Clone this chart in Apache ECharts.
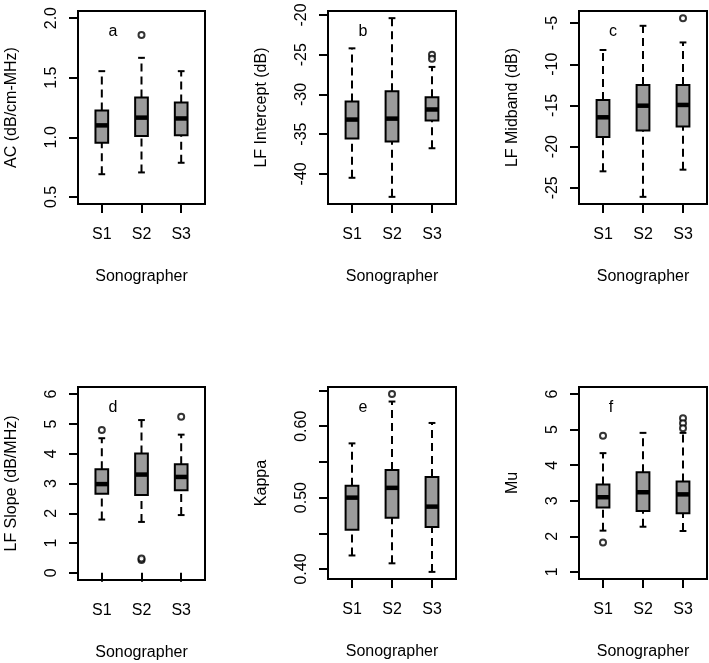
<!DOCTYPE html>
<html>
<head>
<meta charset="utf-8">
<script src="https://cdn.jsdelivr.net/npm/echarts@6/dist/echarts.min.js"></script>
<style>
  html, body { margin: 0; padding: 0; background: #fff; }
  #chart { width: 709px; height: 663px; }
</style>
</head>
<body>
<div id="chart"></div>
<script>
// sonographer groups
var groups = ['S1', 'S2', 'S3'];

// box stats per group: [lower whisker, Q1, median, Q3, upper whisker]
var acStats = [[0.69, 0.955, 1.10, 1.225, 1.555], [0.705, 1.01, 1.165, 1.333, 1.667], [0.786, 1.017, 1.158, 1.292, 1.555]];
var interceptStats = [[-40.5, -35.56, -33.17, -30.9, -24.2], [-42.9, -35.94, -33.05, -29.6, -20.4], [-36.78, -33.28, -31.9, -30.36, -26.54]];
var midbandStats = [[-23.0, -18.82, -16.44, -14.33, -8.27], [-26.1, -18.05, -15.03, -12.52, -5.33], [-22.8, -17.57, -14.94, -12.52, -7.35]];
var slopeStats = [[1.79, 2.66, 2.98, 3.48, 4.52], [1.71, 2.61, 3.30, 4.01, 5.13], [1.94, 2.77, 3.22, 3.65, 4.64]];
var kappaStats = [[0.419, 0.455, 0.500, 0.5165, 0.576], [0.408, 0.472, 0.5137, 0.5386, 0.6346], [0.396, 0.459, 0.4874, 0.5289, 0.6046]];
var muStats = [[2.16, 2.81, 3.10, 3.46, 4.34], [2.27, 2.71, 3.24, 3.80, 4.91], [2.15, 2.65, 3.18, 3.54, 4.91]];

// outliers: [group number, value]
var acOutliers = [[2, 1.858]];
var interceptOutliers = [[3, -25.0], [3, -25.5]];
var midbandOutliers = [[3, -4.4]];
var slopeOutliers = [[1, 4.80], [2, 0.43], [2, 0.48], [3, 5.24]];
var kappaOutliers = [[2, 0.645]];
var muOutliers = [[1, 4.83], [1, 1.83], [3, 5.32], [3, 5.18], [3, 5.04]];

// y ranges (before the 4% padding) and tick values
var acRange = [0.5, 2.0],      acTicks = [0.5, 1.0, 1.5, 2.0];
var interceptRange = [-42.9, -20.4], interceptTicks = [-40, -35, -30, -25, -20];
var midbandRange = [-26.1, -4.4],  midbandTicks = [-25, -20, -15, -10, -5];
var slopeRange = [0, 6],       slopeTicks = [0, 1, 2, 3, 4, 5, 6];
var kappaRange = [0.396, 0.645], kappaTicks = [0.40, 0.45, 0.50, 0.55, 0.60, 0.65], kappaLabels = [0.40, 0.50, 0.60];
var muRange = [1, 6],          muTicks = [1, 2, 3, 4, 5, 6];

var yTitles = ['AC (dB/cm-MHz)', 'LF Intercept (dB)', 'LF Midband (dB)', 'LF Slope (dB/MHz)', 'Kappa', 'Mu'];
var panelLetters = ['a', 'b', 'c', 'd', 'e', 'f'];

var FONT = '"Liberation Sans", Arial, Helvetica, sans-serif';
var BOX_HALF = 0.16;
var STAPLE_HALF = 0.085;

var panels = [
  {stats: acStats, out: acOutliers, range: acRange, ticks: acTicks, labels: acTicks, dec: 1,
   grid: {left: 78, top: 11, width: 127, height: 193}, letterPos: [113, 40]},
  {stats: interceptStats, out: interceptOutliers, range: interceptRange, ticks: interceptTicks, labels: interceptTicks, dec: 0,
   grid: {left: 328, top: 11, width: 128, height: 193}, letterPos: [363, 40]},
  {stats: midbandStats, out: midbandOutliers, range: midbandRange, ticks: midbandTicks, labels: midbandTicks, dec: 0,
   grid: {left: 579, top: 11, width: 128, height: 193}, letterPos: [613, 40]},
  {stats: slopeStats, out: slopeOutliers, range: slopeRange, ticks: slopeTicks, labels: slopeTicks, dec: 0,
   grid: {left: 78, top: 387, width: 127, height: 193}, letterPos: [113, 416]},
  {stats: kappaStats, out: kappaOutliers, range: kappaRange, ticks: kappaTicks, labels: kappaLabels, dec: 2,
   grid: {left: 328, top: 387, width: 128, height: 192}, letterPos: [363, 416]},
  {stats: muStats, out: muOutliers, range: muRange, ticks: muTicks, labels: muTicks, dec: 0,
   grid: {left: 579, top: 387, width: 128, height: 192}, letterPos: [611, 416]}
];

function renderBox(params, api) {
  var x = api.value(0);
  var lo = api.value(1), q1 = api.value(2), md = api.value(3), q3 = api.value(4), hi = api.value(5);
  var pt = function (dx, v) { return api.coord([x + dx, v]); };
  var dash = {stroke: '#000', lineWidth: 2, lineDash: [8, 5]};
  var solid = {stroke: '#000', lineWidth: 2};
  var tl = pt(-BOX_HALF, q3), br = pt(BOX_HALF, q1);
  var mL = pt(-BOX_HALF, md), mR = pt(BOX_HALF, md);
  var lineBetween = function (a, b, style) {
    return {type: 'line', shape: {x1: a[0], y1: a[1], x2: b[0], y2: b[1]}, style: style};
  };
  return {
    type: 'group',
    children: [
      lineBetween(pt(0, lo), pt(0, q1), dash),
      lineBetween(pt(0, q3), pt(0, hi), dash),
      lineBetween(pt(-STAPLE_HALF, lo), pt(STAPLE_HALF, lo), solid),
      lineBetween(pt(-STAPLE_HALF, hi), pt(STAPLE_HALF, hi), solid),
      {type: 'rect', shape: {x: tl[0], y: tl[1], width: br[0] - tl[0], height: br[1] - tl[1]},
       style: {fill: '#9b9b9b', stroke: '#000', lineWidth: 2}},
      lineBetween(mL, mR, {stroke: '#000', lineWidth: 4.5})
    ]
  };
}

var grids = [], xAxes = [], yAxes = [], series = [], graphics = [];

panels.forEach(function (p, i) {
  var pad = (p.range[1] - p.range[0]) * 0.04;
  grids.push(Object.assign({show: true, borderColor: '#000', borderWidth: 2,
    backgroundColor: 'transparent', containLabel: false, outerBoundsMode: 'none'}, p.grid));

  xAxes.push({
    type: 'value', gridIndex: i, min: 0.4, max: 3.6,
    name: 'Sonographer', nameLocation: 'middle', nameGap: 65,
    nameTextStyle: {fontFamily: FONT, fontSize: 16, color: '#000'},
    axisLine: {show: false}, splitLine: {show: false},
    axisTick: {show: true, length: 9, customValues: [1, 2, 3], lineStyle: {color: '#000', width: 2}},
    axisLabel: {show: true, customValues: [1, 2, 3], margin: 23, fontFamily: FONT, fontSize: 16, color: '#000',
      formatter: function (v) { return groups[Math.round(v) - 1]; }}
  });

  yAxes.push({
    type: 'value', gridIndex: i, min: p.range[0] - pad, max: p.range[1] + pad,
    name: yTitles[i], nameLocation: 'middle', nameGap: 58, nameRotate: 90,
    nameTextStyle: {fontFamily: FONT, fontSize: 16, color: '#000'},
    axisLine: {show: false}, splitLine: {show: false},
    axisTick: {show: true, length: 9, customValues: p.ticks, lineStyle: {color: '#000', width: 2}},
    axisLabel: {show: true, customValues: p.labels, rotate: 90, margin: 18, fontFamily: FONT, fontSize: 16, color: '#000',
      formatter: (function (dec) { return function (v) { return Number(v).toFixed(dec); }; })(p.dec)}
  });

  series.push({
    type: 'custom', xAxisIndex: i, yAxisIndex: i,
    renderItem: renderBox,
    encode: {x: 0, y: [1, 2, 3, 4, 5]},
    data: p.stats.map(function (s, g) { return [g + 1].concat(s); }),
    z: 2
  });

  series.push({
    type: 'scatter', xAxisIndex: i, yAxisIndex: i,
    symbol: 'emptyCircle', symbolSize: 6,
    itemStyle: {color: '#000', borderWidth: 1.6},
    data: p.out,
    z: 3
  });

  graphics.push({
    type: 'text', x: p.letterPos[0], y: p.letterPos[1],
    style: {text: panelLetters[i], font: '16px ' + FONT, fill: '#000', align: 'center', verticalAlign: 'bottom'}
  });
});

var chart = echarts.init(document.getElementById('chart'), null, {renderer: 'canvas'});
chart.setOption({
  backgroundColor: '#fff',
  animation: false,
  grid: grids,
  xAxis: xAxes,
  yAxis: yAxes,
  series: series,
  graphic: graphics
});
</script>
</body>
</html>
